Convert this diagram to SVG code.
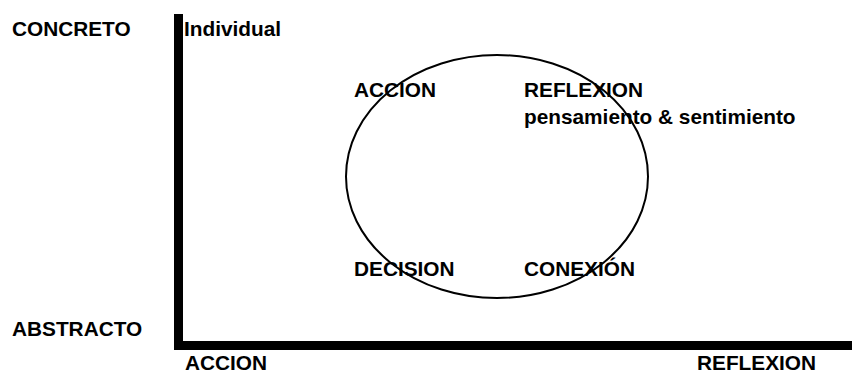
<svg xmlns="http://www.w3.org/2000/svg" width="852" height="373" viewBox="0 0 852 373">
<style>
.t{font-family:"Liberation Sans",Arial,sans-serif;font-weight:bold;font-size:20.8px;fill:#000}
.axis{fill:#000}
</style>
<rect width="852" height="373" fill="#fff"/>
<g id="axes">
<rect class="axis" x="174" y="14" width="9" height="336"/>
<rect class="axis" x="174" y="341" width="678" height="9"/>
</g>
<g id="cycle">
<ellipse cx="497" cy="176.5" rx="151" ry="121.5" fill="none" stroke="#000" stroke-width="2"/>
</g>
<g id="labels">
<text class="t" x="12" y="36">CONCRETO</text>
<text class="t" x="184" y="36">Individual</text>
<text class="t" x="12" y="336">ABSTRACTO</text>
<text class="t" x="185" y="370">ACCION</text>
<text class="t" x="697" y="370">REFLEXION</text>
</g>
<g id="quadrants">
<text class="t" x="354" y="96.5">ACCION</text>
<text class="t" x="524" y="96.5">REFLEXION</text>
<text class="t" x="524" y="124">pensamiento &amp; sentimiento</text>
<text class="t" x="354" y="276">DECISION</text>
<text class="t" x="524" y="276">CONEXIÓN</text>
</g>
</svg>
